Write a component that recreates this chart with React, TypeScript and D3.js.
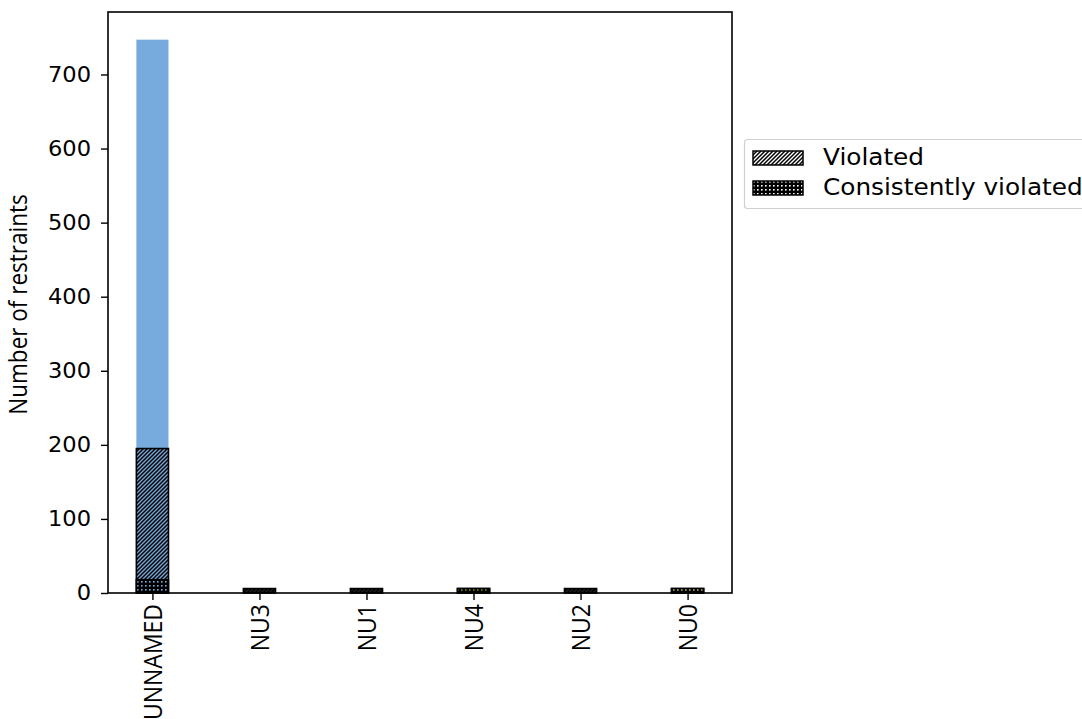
import React, { useRef, useEffect } from 'react';
import * as d3 from 'd3';

const categories = ['UNNAMED', 'NU3', 'NU1', 'NU4', 'NU2', 'NU0'];
const totalCounts = [747, 6, 6, 6, 6, 6];
const violatedCounts = [195, 6, 6, 6, 6, 6];
const consistentCounts = [18, 0, 0, 6, 0, 6];
const barColors = ['#77AADD', '#222222', '#222222', '#AAAA00', '#222222', '#EEDD88'];
const yTicks = [0, 100, 200, 300, 400, 500, 600, 700];
const legendLabels = ['Violated', 'Consistently violated'];

// the reference picture is a bit wider than tall, text glyphs too
const SX = 1.1;

const App = () => {
  const Svg = useRef<SVGSVGElement>(null);

  useEffect(() => {
    const width = 1082;
    const height = 719;
    const left = 108;
    const right = 732;
    const top = 12;
    const bottom = 593;
    const barW = 0.3;

    const svg = d3.select(Svg.current).attr('width', width).attr('height', height);
    svg.selectAll('*').remove();

    const n = categories.length;
    const pad = (n - 1 + barW) * 0.05;
    const x = d3
      .scaleLinear()
      .domain([-barW / 2 - pad, n - 1 + barW / 2 + pad])
      .range([left, right]);
    const yMax = d3.max(totalCounts)! * 1.05;
    const y = d3.scaleLinear().domain([0, yMax]).range([bottom, top]);

    // patterns: diagonal hatch and dots, one pair per face colour
    const defs = svg.append('defs');
    const faces = [...barColors, '#ffffff'];
    faces.forEach((c, i) => {
      const h = defs
        .append('pattern')
        .attr('id', `hatch${i}`)
        .attr('patternUnits', 'userSpaceOnUse')
        .attr('width', 4)
        .attr('height', 4);
      h.append('rect').attr('width', 4).attr('height', 4).attr('fill', c);
      h.append('path')
        .attr('d', 'M-1,1 l2,-2 M0,4 l4,-4 M3,5 l2,-2')
        .attr('stroke', '#000')
        .attr('stroke-width', 1.5);

      const dt = defs
        .append('pattern')
        .attr('id', `dots${i}`)
        .attr('patternUnits', 'userSpaceOnUse')
        .attr('width', 4)
        .attr('height', 4);
      dt.append('rect').attr('width', 4).attr('height', 4).attr('fill', '#000');
      dt.append('rect').attr('x', 1).attr('y', 1).attr('width', 1.6).attr('height', 1.6).attr('fill', c);
    });

    const bw = x(barW) - x(0);

    // total bars
    svg
      .selectAll('rect.total')
      .data(totalCounts)
      .enter()
      .append('rect')
      .attr('class', 'total')
      .attr('x', (d, i) => x(i) - bw / 2)
      .attr('y', (d) => y(d))
      .attr('width', bw)
      .attr('height', (d) => y(0) - y(d))
      .attr('fill', (d, i) => barColors[i]);

    // violated
    svg
      .selectAll('rect.viol')
      .data(violatedCounts)
      .enter()
      .append('rect')
      .attr('class', 'viol')
      .attr('x', (d, i) => x(i) - bw / 2)
      .attr('y', (d) => y(d))
      .attr('width', bw)
      .attr('height', (d) => y(0) - y(d))
      .attr('fill', (d, i) => `url(#hatch${i})`)
      .attr('stroke', '#000')
      .attr('stroke-width', 1.6);

    // consistently violated
    svg
      .selectAll('rect.cons')
      .data(consistentCounts)
      .enter()
      .append('rect')
      .attr('class', 'cons')
      .attr('x', (d, i) => x(i) - bw / 2)
      .attr('y', (d) => y(d))
      .attr('width', bw)
      .attr('height', (d) => y(0) - y(d))
      .attr('fill', (d, i) => `url(#dots${i})`)
      .attr('stroke', '#000')
      .attr('stroke-width', (d) => (d > 0 ? 1.6 : 0));

    // axes frame
    svg
      .append('rect')
      .attr('x', left)
      .attr('y', top)
      .attr('width', right - left)
      .attr('height', bottom - top)
      .attr('fill', 'none')
      .attr('stroke', '#000')
      .attr('stroke-width', 1.6);

    const yAxis = d3.axisLeft(y).tickValues(yTicks).tickSize(7).tickPadding(10);
    const gy = svg.append('g').attr('transform', `translate(${left},0)`).call(yAxis);
    gy.select('.domain').remove();
    gy.selectAll('line').attr('stroke', '#000').attr('stroke-width', 1.4);
    gy.selectAll('text')
      .attr('font-family', 'DejaVu Sans')
      .attr('font-size', 20.5)
      .attr('fill', '#000')
      .attr('x', null)
      .attr('transform', `translate(-17,0) scale(${SX},1)`);

    const xAxis = d3
      .axisBottom(x)
      .tickValues(d3.range(n))
      .tickFormat((d) => categories[d as number])
      .tickSize(7)
      .tickPadding(5);
    const gx = svg.append('g').attr('transform', `translate(0,${bottom})`).call(xAxis);
    gx.select('.domain').remove();
    gx.selectAll('line').attr('stroke', '#000').attr('stroke-width', 1.4);
    gx.selectAll('text')
      .attr('font-family', 'Open Sans')
      .attr('font-size', 23)
      .attr('fill', '#000')
      .attr('transform', `scale(${SX},1) rotate(-90)`)
      .attr('text-anchor', 'end')
      .attr('dy', '0.36em')
      .attr('x', -11)
      .attr('y', 0);

    svg
      .append('text')
      .attr('transform', `translate(27,${(top + bottom) / 2 + 2}) scale(${SX},1) rotate(-90)`)
      .attr('text-anchor', 'middle')
      .attr('font-family', 'Open Sans')
      .attr('font-size', 22.5)
      .attr('fill', '#000')
      .text('Number of restraints');

    // legend
    const lg = svg.append('g');
    lg.append('rect')
      .attr('x', 744.5)
      .attr('y', 139.5)
      .attr('width', 345)
      .attr('height', 69)
      .attr('rx', 3)
      .attr('fill', '#fff')
      .attr('stroke', '#d0d0d0')
      .attr('stroke-width', 1.2);
    const wi = faces.length - 1;
    legendLabels.forEach((lab, i) => {
      const yy = 151 + i * 30;
      lg.append('rect')
        .attr('x', 753)
        .attr('y', yy)
        .attr('width', 50)
        .attr('height', 14)
        .attr('fill', i === 0 ? `url(#hatch${wi})` : `url(#dots${wi})`)
        .attr('stroke', '#000')
        .attr('stroke-width', 1.5);
      lg.append('text')
        .attr('transform', `translate(823,${yy + 14}) scale(${SX},1)`)
        .attr('font-family', 'DejaVu Sans')
        .attr('font-size', 22.5)
        .attr('fill', '#000')
        .text(lab);
    });
  }, []);

  return <svg ref={Svg} style={{ display: 'block', position: 'absolute', left: 0, top: 0 }} />;
};

export default App;
